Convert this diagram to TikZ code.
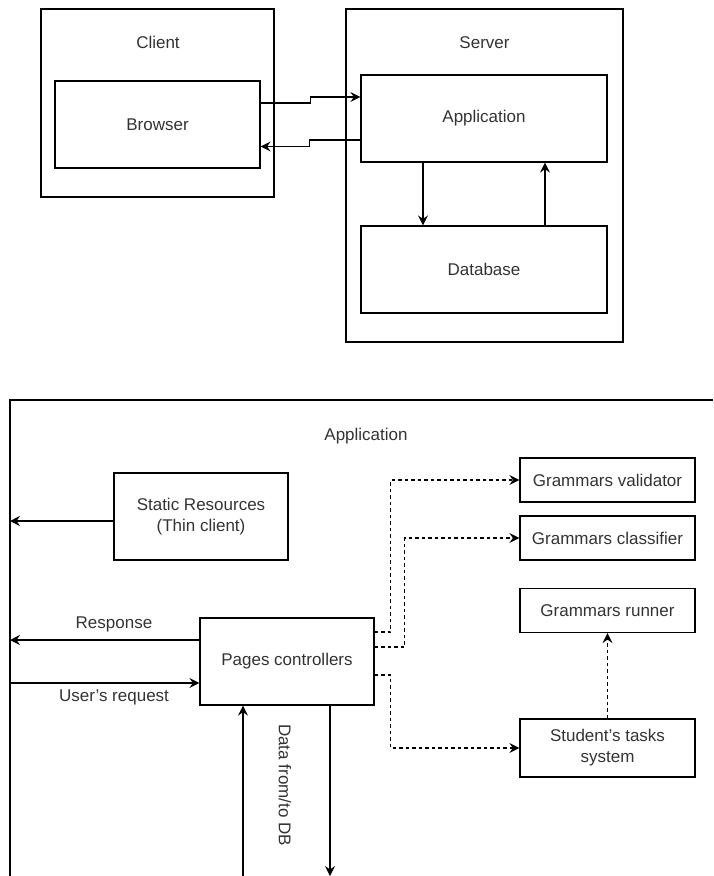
\documentclass[tikz,border=0pt]{standalone}
\usepackage{fontspec}
\setmainfont{Liberation Sans}
\usetikzlibrary{arrows.meta}

\begin{document}
\begin{tikzpicture}[x=1pt,y=-1pt, line width=1.2pt,
	every node/.style={font=\fontsize{17}{21}\selectfont},
	box/.style={draw, inner sep=0pt, text=black!80, align=center},
	lbl/.style={text=black!80, inner sep=0pt},
	conn/.style={-{Stealth[length=10pt,width=10pt,inset=3.5pt]}},
	dconn/.style={conn, dash pattern=on 3.5pt off 3pt}]
	\useasboundingbox (0,0) rectangle (713,876);
	
	%%%client / server
	\node[box, minimum width=233pt, minimum height=188pt] (client) at (157.5,103) {};
	\node[lbl] (clienttitle) at (158,42) {Client};
	\node[box, minimum width=205pt, minimum height=87pt] (browser) at (157.5,124.5) {Browser};
	
	\node[box, minimum width=277pt, minimum height=333pt] (server) at (484.5,175.5) {};
	\node[lbl] (servertitle) at (484.5,43) {Server};
	\node[box, minimum width=246pt, minimum height=87pt] (app) at (484,118.5) {Application};
	\node[box, minimum width=246pt, minimum height=87pt] (db) at (484,269.5) {Database};
	
	\draw[conn] ([yshift=21.5pt]browser.east) -- ++(50,0) |- ([yshift=21.5pt]app.west);
	\draw[conn] ([yshift=-21.5pt]app.west) -- ++(-51,0) |- ([yshift=-22pt]browser.east);
	\draw[conn] ([xshift=-61pt]app.south) -- ([xshift=-61pt]db.north);
	\draw[conn] ([xshift=61pt]db.north) -- ([xshift=61pt]app.south);
	
	%%%application
	\coordinate (frame) at (10,400);
	\draw (713,400) -- (frame) -- (10,876);
	\node[lbl] (apptitle) at (366,436) {Application};
	
	\node[box, minimum width=174pt, minimum height=87pt] (static) at (201,516.5) {Static Resources\\(Thin client)};
	\coordinate (staticout) at (10,521);
	\draw[conn] ([yshift=-4.5pt]static.west) -- (staticout);
	
	%%nodes
	\foreach \name/\y/\txt in {validator/480/Grammars validator, classifier/538/Grammars classifier, runner/610.5/Grammars runner}
	{
		\node[box, minimum width=175pt, minimum height=44pt] (\name) at (607.5,\y) {\txt};
	}
	\node[box, minimum width=175pt, minimum height=58pt] (student) at (607.5,748) {Student's tasks\\system};
	\node[box, minimum width=174pt, minimum height=87pt] (pages) at (287,661.5) {Pages controllers};
	
	\coordinate (respout) at (10,640);
	\coordinate (reqin) at (10,683);
	\draw[conn] ([yshift=21.5pt]pages.west) -- (respout);
	\node[lbl] (resplbl) at (114,624) {Response};
	\draw[conn] (reqin) -- ([yshift=-21.5pt]pages.west);
	\node[lbl] (reqlbl) at (114,697) {User's request};
	
	\draw[dconn] ([yshift=29.5pt]pages.east) -- ++(16,0) |- (validator.west);
	\draw[dconn] ([yshift=14.5pt]pages.east) -- ++(30,0) |- (classifier.west);
	\draw[dconn] ([yshift=-13.5pt]pages.east) -- ++(16,0) |- (student.west);
	\draw[dconn] (student.north) -- (runner.south);
	
	\coordinate (dbin) at (243,876);
	\coordinate (dbout) at (330,876);
	\draw[conn] (dbin) -- ([xshift=-44pt]pages.south);
	\draw[conn] ([xshift=43pt]pages.south) -- (dbout);
	\node[lbl, rotate=-90] (dblbl) at (285,785) {Data from/to DB};
\end{tikzpicture}
\end{document}
